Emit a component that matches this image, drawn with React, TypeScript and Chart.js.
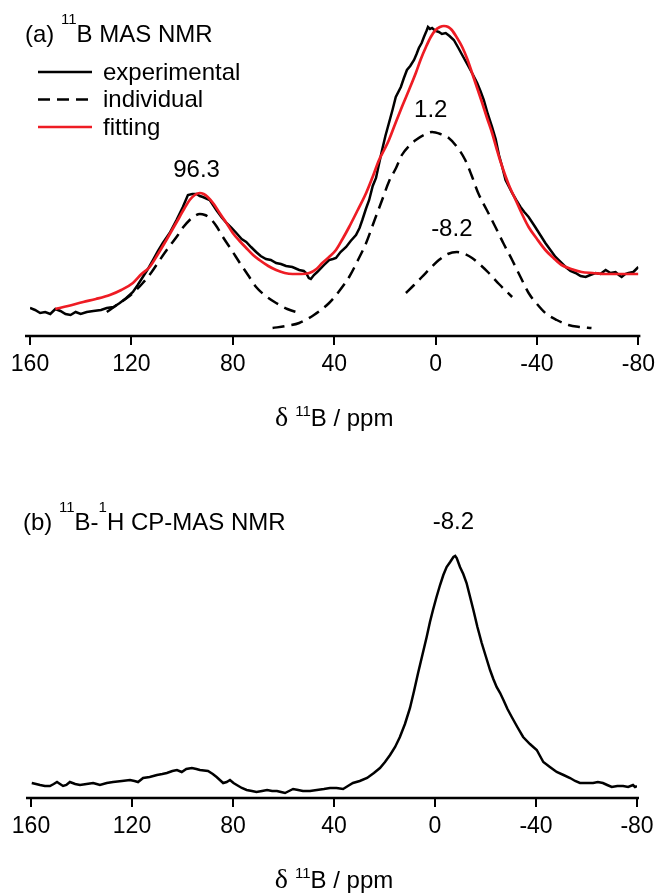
import React, { useEffect, useRef } from "react";
import { Chart, registerables } from "chart.js";

Chart.register(...registerables);

const FONT = "'Liberation Sans', Arial, sans-serif";
const SERIF = "'Liberation Serif', 'Times New Roman', serif";
const RED = "#ee1c24";

// ---------- shared axis ----------
const xTickValues = [160, 120, 80, 40, 0, -40, -80];

// ---------- panel (a): 11B MAS NMR ----------
const expA_ppm = [160,158,156,154,152,150,148,146,144,142,140,137.6,135,132,129.7,127,124.6,122,119.4,117.5,115.5,113.5,111.5,109.5,107.6,104.9,102.2,99.7,97.7,96,94.3,93,91.8,89.1,86.5,84.5,82.5,80.5,78.6,76.5,74.7,72.8,70.8,69,66.9,65,62.9,61,59,56.5,53.8,52,51.1,50,49.2,48,46.7,44,42,40.5,39.3,37.5,35.3,33.5,31.4,30,28.9,27.5,26.2,24.8,23.5,22.5,21.1,19.8,18.4,17,15.7,13.7,12.5,11.3,10,8.5,7.5,6.6,5.5,4.6,3.6,3,2.2,1.4,0,-1.3,-2.5,-4,-5.5,-7.2,-9,-10.5,-11.8,-13.1,-14.8,-16.4,-17.7,-19,-20.6,-22.3,-23.7,-25,-26.2,-27.6,-29,-30.2,-31.8,-33.5,-35,-36.7,-38,-39.3,-41.3,-43.3,-45.3,-47.3,-49.3,-51.3,-53.2,-55.2,-57.2,-59.2,-61,-63.1,-65,-67.1,-69,-71,-72.3,-73.4,-74.8,-76.1,-78,-80];
const expA_int = [28,26,23,24,22,27,25,22,21,24,22,24,25,26,28,29,33,38,44,51,59,67,76,85,93,103,116,129,141,142,142,140,139,136,126,119,113,108,103,97,94,89,84,80,77,76,73,72,70,69,66,65,63,58,57,61,64,71,76,77,78,84,89,95,101,108,116,127,136,150,158,170,186,200,213,226,239,249,258,266,270,276,282,288,293,299,305,309,307,308,305,304,302,303,300,296,288,281,275,269,261,253,245,236,222,209,197,181,170,156,149,143,136,129,124,119,114,109,101,93,86,79,74,69,65,63,60,59,61,63,62,66,63,64,61,59,62,63,64,69];

const fit_ppm = [150,145,139,134,128.5,124,119.4,116,112.8,109.5,106.2,103.5,101,99,97,95,93,91.5,89.9,87.5,85.2,82.5,80,77.3,74.7,72,69.5,66,62.9,59.5,56.4,53,49.8,47,44.7,42,39.3,36.7,34.1,30.7,27.4,25,22.3,20.3,18.4,15.8,13.3,10.5,7.8,5.8,3.8,1.9,0,-1.7,-3.3,-5,-6.4,-8.5,-10.5,-12.5,-14.4,-16.4,-18.4,-20.3,-22.3,-24,-25.8,-28.9,-31.6,-34.1,-36.7,-40,-43.3,-46.5,-49.7,-53.5,-57.6,-62,-67.1,-73,-80];
const fit_int = [27,30,34,37,41,46,53,62,69,82,96,108,119,128,136,141,143,142,139,132,123,113,103,95,88,81,76,70,66,63,62,62,63,67,73,79,86,97,109,126,143,158,176,186,196,213,229,246,263,277,289,299,306,309,310,309,306,298,289,277,263,248,233,218,203,188,173,151,136,122,109,97,86,78,71,67,64,63,62,62,62];

const comp1_ppm = [129.7,125.8,121.8,118.5,115.5,112,108.8,105.5,102.2,99.5,97,95,93,91,89.1,86.5,83.9,80.5,77.2,74,70.8,67,62.9,58.5,53.8];
const comp1_int = [24,31,38,45,53,64,76,88,99,109,116,120,122,121,118,110,99,86,73,61,49,40,33,27,23];

const comp2_ppm = [64.3,59,53.8,48,42,38,34.1,30.8,27.4,24.2,21.1,18.3,15.6,13.3,10.5,7.8,4.6,1.4,-1.9,-5.2,-8.5,-11.7,-14.3,-16.8,-20.2,-23.6,-26.9,-30.2,-33.5,-36.7,-40,-43.3,-47.8,-52.4,-57,-61.5];
const comp2_int = [8,10,13,21,33,45,59,75,93,115,136,155,168,181,190,196,201,204,202,198,189,176,160,143,126,109,92,76,59,43,32,23,16,11,9,8];

const comp3_ppm = [11.7,8.5,5.4,2,-1.3,-4.8,-8.4,-11.5,-14.4,-17.7,-21,-25,-30.2];
const comp3_int = [43,51,59,68,76,82,84,82,78,71,63,52,39];

const legendLabels = ["experimental", "individual", "fitting"];

const peakLabelsA = [
  { text: "96.3", ppm: 94.3, val: 166 },
  { text: "1.2", ppm: 1.9, val: 226 },
  { text: "-8.2", ppm: -6.4, val: 107 },
];

// ---------- panel (b): 11B-1H CP-MAS NMR ----------
const cp_ppm = [159.7,158,156.4,154.5,152.5,151,149.7,148.5,147.3,146,144.6,142.5,140.6,138,135.4,134,132.7,130,127.5,124,120.8,119,117.6,115.6,113,110.1,108,106.2,104,102.2,100.3,98.5,96.3,94.5,93.1,89.9,88,86.5,83.9,82.5,81.2,79.8,78.5,76.5,74.6,72.5,70.7,68.5,66.5,64.5,62.6,61,59.4,57.8,56.2,54.2,52.3,49.5,46.8,44,41.6,39,36.4,34.5,32.5,29.8,26.9,24.2,21.8,19.8,17.8,15.8,13.9,11.9,9.9,8.3,6.7,5,3.3,2,0.8,-0.6,-2,-3.3,-4.6,-6,-7.3,-8,-8.6,-9.9,-11.2,-12.5,-13.8,-15.2,-16.8,-18.5,-20.2,-21.8,-23.1,-24.4,-25.8,-27.1,-28.7,-30.4,-32.6,-34.9,-37.6,-40.3,-41.6,-42.9,-45.5,-48.2,-50.9,-53.5,-55.5,-57.4,-60,-62.6,-64.5,-66.5,-68.2,-70,-72.2,-74.5,-76.5,-78.4,-79.2,-80];
const cp_int = [15,14,13,12,12,14,16,14,12,13,16,14,13,14,15,14,13,15,16,17,18,17,16,20,21,23,24,25,27,28,26,29,30,29,28,27,24,21,15,16,18,15,13,10,8,7,6,7,8,7,7,6,5,7,9,8,7,7,8,9,10,10,9,12,15,17,20,25,30,36,43,51,61,74,90,107,125,143,161,176,188,201,213,223,231,236,241,242,240,231,224,215,202,188,171,155,141,128,119,111,105,98,89,81,71,61,54,48,42,36,31,26,23,20,17,15,15,15,16,15,13,11,12,12,11,13,11,12];

const peakLabelsB = [{ text: "-8.2", ppm: -7.3, val: 276 }];

// ---------- texts ----------
type Seg = { t: string; sup?: boolean; serif?: boolean };
const titleA: Seg[] = [{ t: "(a) " }, { t: "11", sup: true }, { t: "B MAS NMR" }];
const titleB: Seg[] = [{ t: "(b) " }, { t: "11", sup: true }, { t: "B-" }, { t: "1", sup: true }, { t: "H CP-MAS NMR" }];
const axisTitle: Seg[] = [{ t: "\u03b4 ", serif: true }, { t: "11", sup: true }, { t: "B / ppm" }];

function pts(xs: number[], ys: number[]) {
  return xs.map((x, i) => ({ x, y: ys[i] }));
}

function drawRich(ctx: CanvasRenderingContext2D, segs: Seg[], x: number, baseline: number, align: "left" | "center", size: number, supSize: number, rise: number) {
  const fontFor = (s: Seg) => (s.sup ? `${supSize}px ${FONT}` : s.serif ? `${size + 4}px ${SERIF}` : `${size}px ${FONT}`);
  let total = 0;
  for (const s of segs) {
    ctx.font = fontFor(s);
    total += ctx.measureText(s.t).width;
  }
  let cx = align === "center" ? x - total / 2 : x;
  ctx.textAlign = "left";
  ctx.textBaseline = "alphabetic";
  for (const s of segs) {
    ctx.font = fontFor(s);
    ctx.fillText(s.t, cx, s.sup ? baseline - rise : baseline);
    cx += ctx.measureText(s.t).width;
  }
}

const decorPlugin = {
  id: "decor",
  afterDraw(chart: any, _args: any, opts: any) {
    const ctx: CanvasRenderingContext2D = chart.ctx;
    const xs = chart.scales.x;
    const ys = chart.scales.y;
    const area = chart.chartArea;
    ctx.save();
    ctx.fillStyle = "#000";
    ctx.strokeStyle = "#000";
    // axis line
    ctx.lineWidth = 2.5;
    ctx.setLineDash([]);
    ctx.beginPath();
    ctx.moveTo(area.left - 5, area.bottom);
    ctx.lineTo(area.right + 2, area.bottom);
    ctx.stroke();
    // panel title
    if (opts.title) {
      drawRich(ctx, opts.title, opts.titleX, opts.titleBaseline, "left", 24, 15, 18);
    }
    // axis title
    drawRich(ctx, axisTitle, (area.left + area.right) / 2, area.bottom + 90, "center", 24, 15, 10);
    // peak labels
    ctx.font = `24px ${FONT}`;
    ctx.textAlign = "center";
    ctx.textBaseline = "middle";
    for (const p of opts.peaks || []) {
      ctx.fillText(p.text, xs.getPixelForValue(p.ppm), ys.getPixelForValue(p.val));
    }
    // legend
    if (opts.legend) {
      const L = opts.legend;
      L.items.forEach((label: string, i: number) => {
        const ds = chart.data.datasets.find((d: any) => d.label === label);
        if (!ds) return;
        const y = L.y + i * L.rowH;
        ctx.strokeStyle = ds.borderColor;
        ctx.lineWidth = ds.borderWidth;
        ctx.setLineDash(ds.borderDash || []);
        ctx.beginPath();
        ctx.moveTo(L.x, y);
        ctx.lineTo(L.x + L.lineLen, y);
        ctx.stroke();
        ctx.setLineDash([]);
        ctx.fillStyle = "#000";
        ctx.font = `24px ${FONT}`;
        ctx.textAlign = "left";
        ctx.textBaseline = "middle";
        ctx.fillText(label, L.x + L.lineLen + 11, y + 1);
      });
    }
    ctx.restore();
  },
};

function lineDs(label: string, data: any[], color: string, width: number, dash: number[] | undefined, smooth: boolean, order: number) {
  return {
    label,
    data,
    showLine: true,
    borderColor: color,
    backgroundColor: color,
    borderWidth: width,
    borderDash: dash,
    pointRadius: 0,
    pointHoverRadius: 0,
    tension: 0,
    cubicInterpolationMode: smooth ? "monotone" : "default",
    fill: false,
    order,
  };
}

function xScale(axisHeight: number) {
  return {
    type: "linear",
    min: -80,
    max: 160,
    reverse: true,
    afterBuildTicks: (s: any) => {
      s.ticks = xTickValues.map((v) => ({ value: v }));
    },
    afterFit: (s: any) => {
      s.height = axisHeight;
    },
    border: { display: false },
    grid: {
      drawOnChartArea: false,
      drawTicks: true,
      tickLength: 9,
      color: "#000",
      lineWidth: 2,
    },
    ticks: {
      color: "#000",
      font: { family: FONT, size: 23 },
      padding: 6,
      maxRotation: 0,
      autoSkip: false,
      callback: (v: any) => String(v),
    },
  };
}

function PanelChart({ config, width, height, top }: { config: any; width: number; height: number; top: number }) {
  const ref = useRef<HTMLCanvasElement | null>(null);
  useEffect(() => {
    if (!ref.current) return;
    const chart = new Chart(ref.current, config);
    return () => chart.destroy();
  }, []);
  return (
    <canvas
      ref={ref}
      width={width}
      height={height}
      style={{ position: "absolute", left: 0, top, width, height, display: "block" }}
    />
  );
}

const configA: any = {
  type: "scatter",
  data: {
    datasets: [
      lineDs("experimental", pts(expA_ppm, expA_int), "#000", 2.5, undefined, false, 1),
      lineDs("individual", pts(comp1_ppm, comp1_int), "#000", 2.5, [12, 7], true, 2),
      lineDs("individual 2", pts(comp2_ppm, comp2_int), "#000", 2.5, [12, 7], true, 2),
      lineDs("individual 3", pts(comp3_ppm, comp3_int), "#000", 2.5, [12, 7], true, 2),
      lineDs("fitting", pts(fit_ppm, fit_int), RED, 2.7, undefined, true, 0),
    ],
  },
  options: {
    responsive: false,
    animation: false,
    events: [],
    devicePixelRatio: 1,
    layout: { padding: { left: 30, right: 21, top: 0, bottom: 0 } },
    scales: {
      x: xScale(124),
      y: { type: "linear", display: false, min: 0, max: 336 },
    },
    plugins: {
      legend: { display: false },
      tooltip: { enabled: false },
      decor: {
        title: titleA,
        titleX: 25,
        titleBaseline: 42,
        peaks: peakLabelsA,
        legend: { items: legendLabels, x: 38, y: 72, rowH: 27.5, lineLen: 54 },
      },
    },
  },
  plugins: [decorPlugin],
};

const configB: any = {
  type: "scatter",
  data: {
    datasets: [lineDs("CP-MAS", pts(cp_ppm, cp_int), "#000", 2.5, undefined, false, 0)],
  },
  options: {
    responsive: false,
    animation: false,
    events: [],
    devicePixelRatio: 1,
    layout: { padding: { left: 31, right: 24, top: 0, bottom: 0 } },
    scales: {
      x: xScale(96),
      y: { type: "linear", display: false, min: 0, max: 338 },
    },
    plugins: {
      legend: { display: false },
      tooltip: { enabled: false },
      decor: {
        title: titleB,
        titleX: 23,
        titleBaseline: 70,
        peaks: peakLabelsB,
      },
    },
  },
  plugins: [decorPlugin],
};

export default function App() {
  return (
    <div style={{ position: "absolute", left: 0, top: 0, width: 661, height: 894, background: "#fff", overflow: "hidden" }}>
      <PanelChart config={configA} width={661} height={460} top={0} />
      <PanelChart config={configB} width={661} height={434} top={460} />
    </div>
  );
}
